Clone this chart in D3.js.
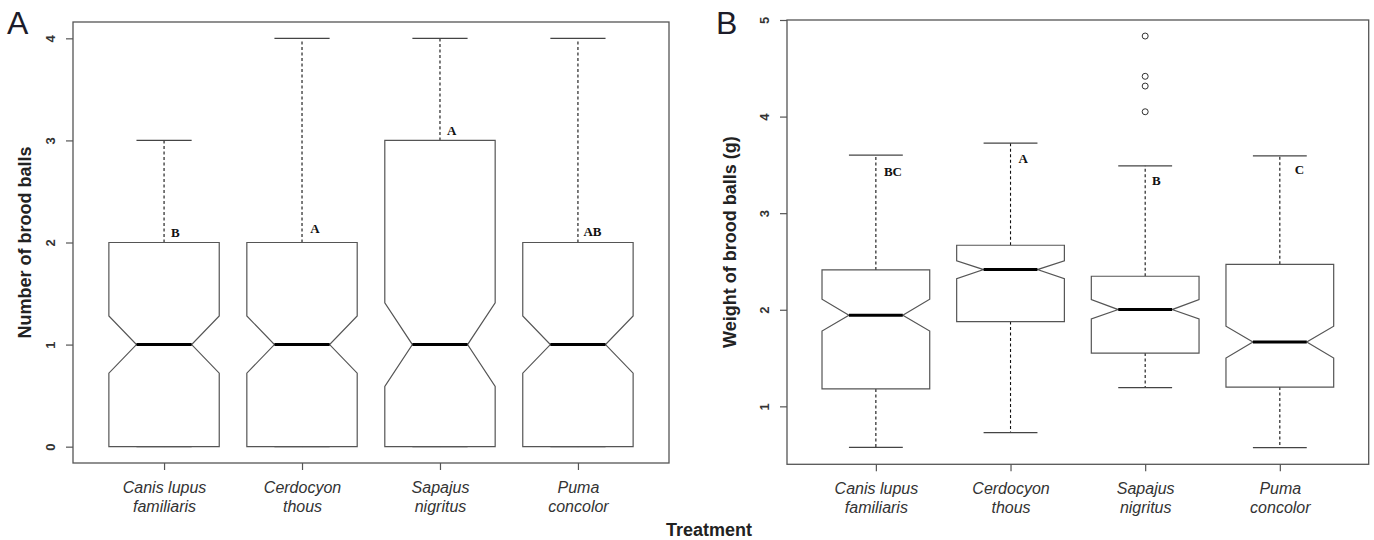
<!DOCTYPE html>
<html>
<head>
<meta charset="utf-8">
<script src="https://cdn.jsdelivr.net/npm/d3@7"></script>
<style>
  body { margin: 0; background: #fff; }
  svg { display: block; }
</style>
</head>
<body>
<div id="wrapper"></div>
<script>
// species on the x axis (two lines each)
const species = [
  ["Canis lupus", "familiaris"],
  ["Cerdocyon", "thous"],
  ["Sapajus", "nigritus"],
  ["Puma", "concolor"],
];

// panel A: number of brood balls
const countLow = [0, 0, 0, 0];
const countQ1 = [0, 0, 0, 0];
const countMed = [1, 1, 1, 1];
const countQ3 = [2, 2, 3, 2];
const countHigh = [3, 4, 4, 4];
const countNotchLo = [0.72, 0.72, 0.59, 0.72];
const countNotchHi = [1.28, 1.28, 1.41, 1.28];
const countLetters = ["B", "A", "A", "AB"];
const countLetterX = [1.05, 2.06, 3.05, 4.04];
const countLetterY = [2.05, 2.09, 3.05, 2.06];
const countTicks = [0, 1, 2, 3, 4];

// panel B: weight of brood balls (g)
const weightLow = [0.575, 0.727, 1.194, 0.572];
const weightQ1 = [1.18, 1.878, 1.552, 1.2];
const weightMed = [1.943, 2.416, 2.002, 1.666];
const weightQ3 = [2.412, 2.668, 2.347, 2.47];
const weightHigh = [3.6, 3.725, 3.49, 3.594];
const weightNotchLo = [1.78, 2.323, 1.905, 1.5];
const weightNotchHi = [2.109, 2.506, 2.106, 1.829];
const weightOutlierGroup = [3, 3, 3, 3];
const weightOutlierValue = [4.834, 4.417, 4.316, 4.05];
const weightLetters = ["BC", "A", "B", "C"];
const weightLetterX = [1.06, 2.06, 3.05, 4.11];
const weightLetterY = [3.383, 3.521, 3.29, 3.41];
const weightTicks = [1, 2, 3, 4, 5];

const width = 1374;
const height = 540;

const svg = d3
  .select("#wrapper")
  .append("svg")
  .attr("width", width)
  .attr("height", height);

const sans = "'Liberation Sans', Arial, sans-serif";
const serif = "'Liberation Serif', 'Times New Roman', serif";

function drawPanel(opts) {
  const { frame, yDomain, low, q1, med, q3, high, notchLo, notchHi } = opts;

  const x = d3
    .scaleLinear()
    .domain([0.34, 4.66])
    .range([frame.left, frame.right]);
  const y = d3.scaleLinear().domain(yDomain).range([frame.bottom, frame.top]);

  const g = svg.append("g");

  // frame around the plot
  g.append("rect")
    .attr("x", frame.left)
    .attr("y", frame.top)
    .attr("width", frame.right - frame.left)
    .attr("height", frame.bottom - frame.top)
    .attr("fill", "none")
    .attr("stroke", "#555")
    .attr("stroke-width", 1.3);

  // y axis with rotated labels
  const yAxis = g
    .append("g")
    .attr("transform", `translate(${frame.left},0)`)
    .call(d3.axisLeft(y).tickValues(opts.ticks).tickSize(7).tickFormat(d3.format("d")));
  yAxis.select(".domain").remove();
  yAxis.selectAll("line").attr("stroke", "#555").attr("stroke-width", 1.2);
  yAxis
    .selectAll("text")
    .attr("x", null)
    .attr("dy", null)
    .attr("text-anchor", "middle")
    .attr("transform", "translate(-18,0) rotate(-90)")
    .attr("font-family", sans)
    .attr("font-weight", "bold")
    .attr("font-size", 13)
    .attr("fill", "#333");

  // x axis ticks + two-line italic labels
  const xAxis = g
    .append("g")
    .attr("transform", `translate(0,${frame.bottom})`)
    .call(d3.axisBottom(x).tickValues([1, 2, 3, 4]).tickSize(7).tickFormat(""));
  xAxis.select(".domain").remove();
  xAxis.selectAll("line").attr("stroke", "#555").attr("stroke-width", 1.2);
  xAxis
    .selectAll(".tick")
    .append("text")
    .attr("text-anchor", "middle")
    .attr("font-family", sans)
    .attr("font-style", "italic")
    .attr("font-size", 16)
    .attr("fill", "#333")
    .selectAll("tspan")
    .data((d) => species[d - 1])
    .join("tspan")
    .attr("x", 0)
    .attr("y", (d, i) => 30 + i * 19)
    .text((d) => d);

  const idx = d3.range(4);
  const hw = 0.4;
  const nw = 0.2;

  // whiskers
  const whisk = g.append("g").attr("stroke", "#111").attr("stroke-width", 1.1);
  whisk
    .selectAll(".up")
    .data(idx)
    .join("line")
    .attr("x1", (i) => x(i + 1))
    .attr("x2", (i) => x(i + 1))
    .attr("y1", (i) => y(q3[i]))
    .attr("y2", (i) => y(high[i]))
    .attr("stroke-dasharray", "3,2.5");
  whisk
    .selectAll(".down")
    .data(idx)
    .join("line")
    .attr("x1", (i) => x(i + 1))
    .attr("x2", (i) => x(i + 1))
    .attr("y1", (i) => y(q1[i]))
    .attr("y2", (i) => y(low[i]))
    .attr("stroke-dasharray", "3,2.5");

  const caps = g.append("g").attr("stroke", "#444").attr("stroke-width", 1.3);
  [high, low].forEach((arr) => {
    caps
      .append("g")
      .selectAll("line")
      .data(idx)
      .join("line")
      .attr("x1", (i) => x(i + 1 - nw))
      .attr("x2", (i) => x(i + 1 + nw))
      .attr("y1", (i) => y(arr[i]))
      .attr("y2", (i) => y(arr[i]));
  });

  // notched boxes
  const boxPath = (i) => {
    const c = i + 1;
    const pts = [
      [c - hw, q1[i]],
      [c - hw, notchLo[i]],
      [c - nw, med[i]],
      [c - hw, notchHi[i]],
      [c - hw, q3[i]],
      [c + hw, q3[i]],
      [c + hw, notchHi[i]],
      [c + nw, med[i]],
      [c + hw, notchLo[i]],
      [c + hw, q1[i]],
    ];
    return d3.line().x((p) => x(p[0])).y((p) => y(p[1]))(pts) + "Z";
  };
  g.append("g")
    .selectAll("path")
    .data(idx)
    .join("path")
    .attr("d", boxPath)
    .attr("fill", "#fff")
    .attr("stroke", "#555")
    .attr("stroke-width", 1.2);

  // medians
  g.append("g")
    .selectAll("line")
    .data(idx)
    .join("line")
    .attr("x1", (i) => x(i + 1 - nw))
    .attr("x2", (i) => x(i + 1 + nw))
    .attr("y1", (i) => y(med[i]))
    .attr("y2", (i) => y(med[i]))
    .attr("stroke", "#000")
    .attr("stroke-width", 3);

  // outliers
  if (opts.outGroup) {
    g.append("g")
      .selectAll("circle")
      .data(opts.outValue)
      .join("circle")
      .attr("cx", (d, i) => x(opts.outGroup[i]))
      .attr("cy", (d) => y(d))
      .attr("r", 3)
      .attr("fill", "none")
      .attr("stroke", "#333")
      .attr("stroke-width", 1);
  }

  // significance letters
  g.append("g")
    .selectAll("text")
    .data(opts.letters)
    .join("text")
    .attr("x", (d, i) => x(opts.letterX[i]))
    .attr("y", (d, i) => y(opts.letterY[i]))
    .attr("font-family", serif)
    .attr("font-weight", "bold")
    .attr("font-size", 13)
    .attr("fill", "#111")
    .text((d) => d);

  // y axis title
  g.append("text")
    .attr(
      "transform",
      `translate(${opts.titleX},${(frame.top + frame.bottom) / 2}) rotate(-90)`
    )
    .attr("text-anchor", "middle")
    .attr("font-family", sans)
    .attr("font-weight", "bold")
    .attr("font-size", 18)
    .attr("fill", "#222")
    .text(opts.title);

  // panel letter
  svg
    .append("text")
    .attr("x", opts.tagX)
    .attr("y", 34)
    .attr("font-family", sans)
    .attr("font-size", 32)
    .attr("fill", "#1c1c2a")
    .text(opts.tag);
}

drawPanel({
  frame: { left: 73, right: 669, top: 22, bottom: 463 },
  yDomain: [-0.16, 4.16],
  ticks: countTicks,
  low: countLow,
  q1: countQ1,
  med: countMed,
  q3: countQ3,
  high: countHigh,
  notchLo: countNotchLo,
  notchHi: countNotchHi,
  letters: countLetters,
  letterX: countLetterX,
  letterY: countLetterY,
  title: "Number of brood balls",
  titleX: 31,
  tag: "A",
  tagX: 7,
});

drawPanel({
  frame: { left: 787, right: 1368.7, top: 20, bottom: 464.3 },
  yDomain: [0.4, 5.0],
  ticks: weightTicks,
  low: weightLow,
  q1: weightQ1,
  med: weightMed,
  q3: weightQ3,
  high: weightHigh,
  notchLo: weightNotchLo,
  notchHi: weightNotchHi,
  outGroup: weightOutlierGroup,
  outValue: weightOutlierValue,
  letters: weightLetters,
  letterX: weightLetterX,
  letterY: weightLetterY,
  title: "Weight of brood balls (g)",
  titleX: 736,
  tag: "B",
  tagX: 716,
});

// shared x title
svg
  .append("text")
  .attr("x", 709)
  .attr("y", 536)
  .attr("text-anchor", "middle")
  .attr("font-family", sans)
  .attr("font-weight", "bold")
  .attr("font-size", 18)
  .attr("fill", "#222")
  .text("Treatment");
</script>
</body>
</html>
